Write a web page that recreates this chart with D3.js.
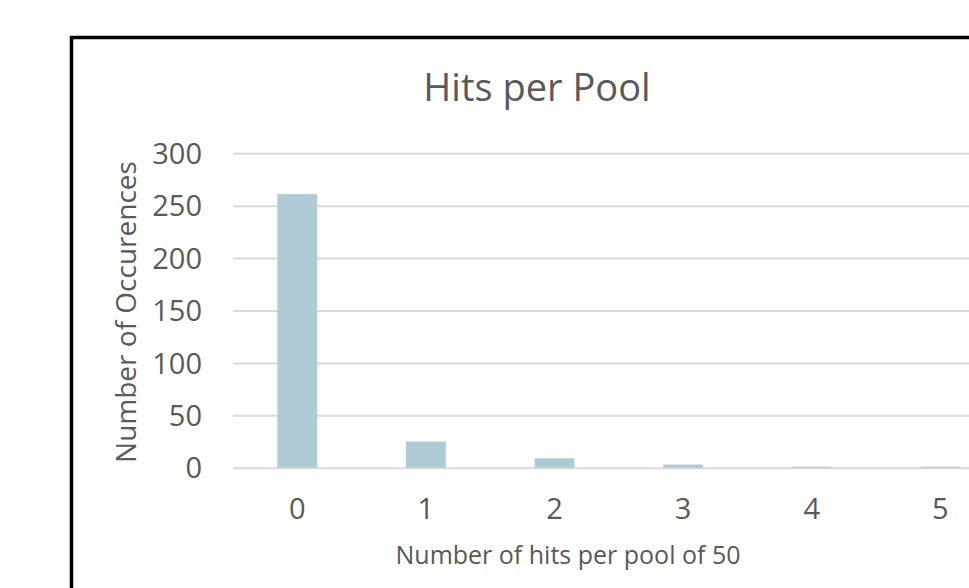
<!DOCTYPE html>
<html>
<head>
<meta charset="utf-8">
<script src="https://cdn.jsdelivr.net/npm/d3@7"></script>
<style>
  body { margin: 0; background: #fff; }
  svg text { font-family: "Open Sans", sans-serif; fill: #595959; }
</style>
</head>
<body>
<svg width="969" height="588"></svg>
<script>
// chart data
var categories = ["0", "1", "2", "3", "4", "5"];
var counts = [261, 25, 9, 3, 1, 1];
var yTicks = [0, 50, 100, 150, 200, 250, 300];

var svg = d3.select("svg");

svg.append("rect")
    .attr("width", 969)
    .attr("height", 588)
    .attr("fill", "#fff");

// chart frame, runs off the right and bottom edges
svg.append("rect")
    .attr("x", 71.5)
    .attr("y", 37.5)
    .attr("width", 1000)
    .attr("height", 600)
    .attr("fill", "none")
    .attr("stroke", "#000")
    .attr("stroke-width", 3.5);

var x = d3.scaleBand()
    .domain(categories)
    .range([233, 1004.6])
    .paddingInner(0.69)
    .paddingOuter(0.345);

var y = d3.scaleLinear()
    .domain([0, 300])
    .range([467.7, 153.3]);

// gridlines
var grid = svg.append("g")
    .attr("transform", "translate(233,0)")
    .call(d3.axisLeft(y).tickValues(yTicks).tickSize(-760).tickFormat(""));
grid.select(".domain").remove();
grid.selectAll("line")
    .attr("stroke", "#d9d9d9")
    .attr("stroke-width", 2);

// bars
svg.append("g")
    .selectAll("rect")
    .data(counts)
    .join("rect")
    .attr("x", (d, i) => x(categories[i]))
    .attr("y", d => y(d))
    .attr("width", x.bandwidth())
    .attr("height", d => y(0) - y(d))
    .attr("fill", "#aecbd6");

// y axis labels
var yAxis = svg.append("g")
    .attr("transform", "translate(202,0)")
    .call(d3.axisLeft(y).tickValues(yTicks).tickSize(0).tickPadding(0));
yAxis.select(".domain").remove();
yAxis.selectAll("text")
    .attr("font-size", 29)
    .attr("dy", "0.35em")
    .attr("fill", "#595959")
    .style("font-family", "'Open Sans', sans-serif");

// x axis labels
var xAxis = svg.append("g")
    .attr("transform", "translate(0,519)")
    .call(d3.axisBottom(x).tickSize(0).tickPadding(0));
xAxis.select(".domain").remove();
xAxis.selectAll("text")
    .attr("font-size", 29)
    .attr("dy", 0)
    .attr("fill", "#595959")
    .style("font-family", "'Open Sans', sans-serif");

// titles
svg.append("text")
    .attr("x", 537)
    .attr("y", 101)
    .attr("text-anchor", "middle")
    .attr("font-size", 38)
    .text("Hits per Pool");

svg.append("text")
    .attr("x", 568)
    .attr("y", 564)
    .attr("text-anchor", "middle")
    .attr("font-size", 25)
    .text("Number of hits per pool of 50");

svg.append("text")
    .attr("transform", "translate(136,312) rotate(-90)")
    .attr("text-anchor", "middle")
    .attr("font-size", 28)
    .text("Number of Occurences");
</script>
</body>
</html>
